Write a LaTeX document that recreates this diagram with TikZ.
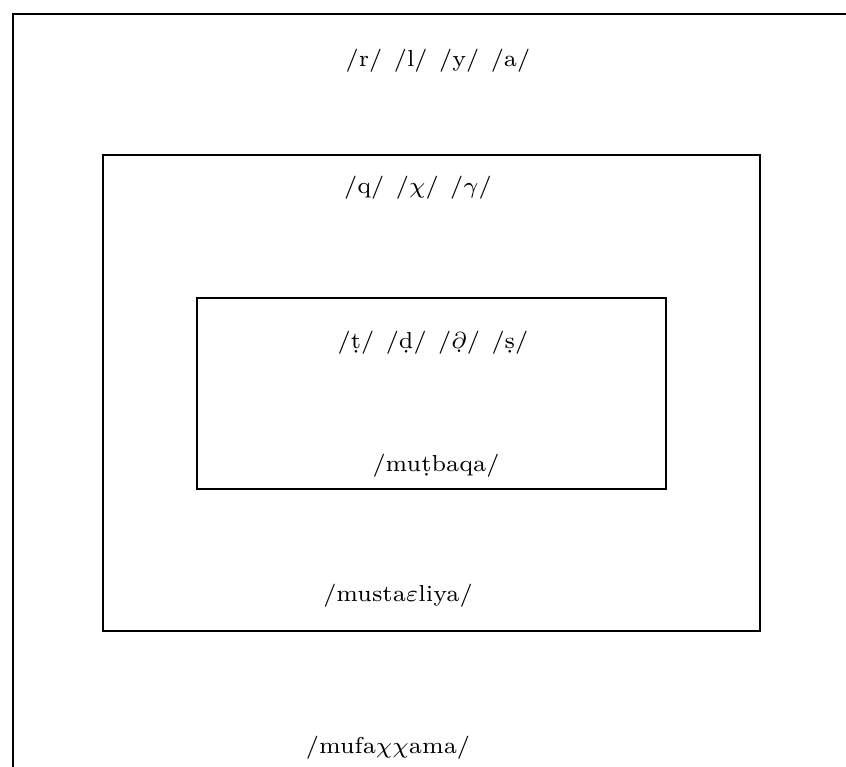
\documentclass[tikz,border=0pt]{standalone}
\tikzstyle{cadre}=[rectangle,draw,line width=2.6pt]
\tikzstyle{phon}=[font=\fontsize{7}{8.5}\selectfont,scale=3.3,transform shape,inner sep=0pt]
\newcommand{\pointdessous}[1]{\leavevmode\vtop{\offinterlineskip\halign{\hfil##\hfil\cr#1\cr\noalign{\kern0.4pt}.\cr}}}
\newcommand{\ecart}{\hspace{0.5em}}

\begin{document}
\begin{tikzpicture}[x=1pt,y=-1pt]
\useasboundingbox (0,0) rectangle (846,767);

% les trois cadres
\node[cadre,minimum width=847pt,minimum height=766pt] (C0) at (436.5,397) {};
\node[cadre,minimum width=657pt,minimum height=476pt] (C1) at (431.5,393) {};
\node[cadre,minimum width=469pt,minimum height=191pt] (C2) at (431.5,393.5) {};

\node[phon] (T00) at (438,61) {/r/\ecart/l/\ecart/y/\ecart/a/};
\node[phon] (T10) at (418,188) {/q/\ecart/$\chi$/\ecart/$\gamma$/};
\node[phon] (T20) at (433,343) {/\d{t}/\ecart/\d{d}/\ecart/\pointdessous{$\partial$}/\ecart/\d{s}/};
\node[phon] (T21) at (436,466) {/mu\d{t}baqa/};
\node[phon] (T11) at (398,596) {/musta$\varepsilon$liya/};
\node[phon] (T01) at (388,748) {/mufa$\chi\chi$ama/};

\end{tikzpicture}
\end{document}
